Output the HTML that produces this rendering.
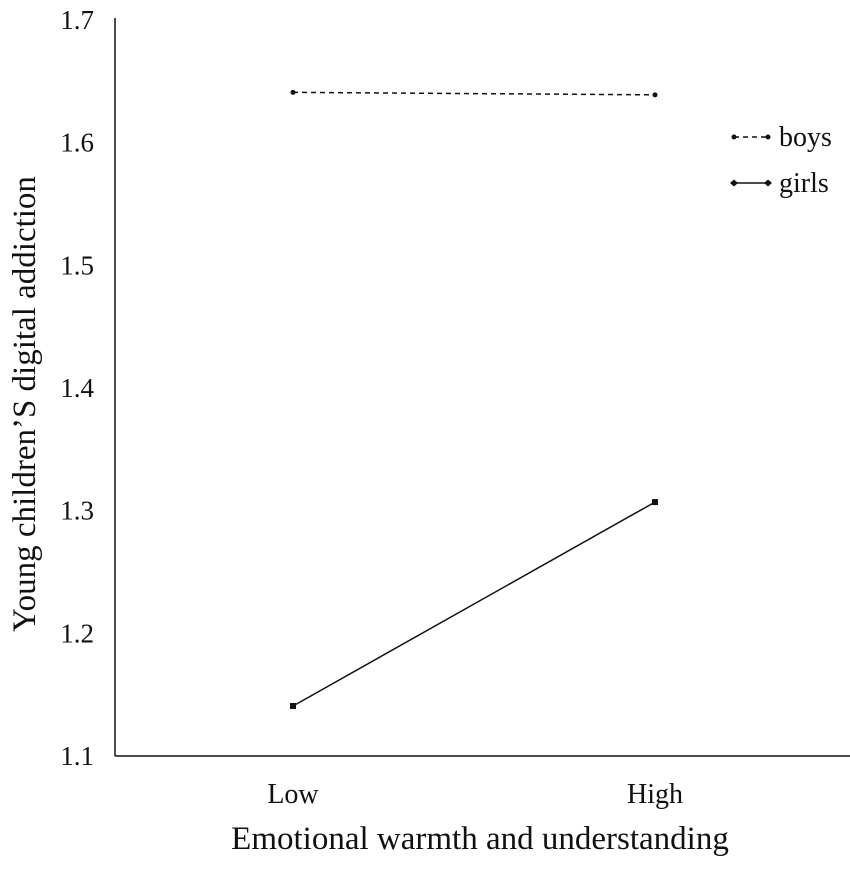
<!DOCTYPE html>
<html><head><meta charset="utf-8"><style>
body{margin:0;background:#fff}
svg text{font-family:"Liberation Serif",serif;fill:#111}
</style></head><body>
<svg id="chart" width="850" height="865" xmlns="http://www.w3.org/2000/svg">
<g id="axes"></g><g id="marks"></g>
<text transform="translate(35,404) rotate(-90)" text-anchor="middle" font-size="33">Young children’S digital addiction</text>
<text x="480" y="849" text-anchor="middle" font-size="33">Emotional warmth and understanding</text>
<g>
<line x1="734" y1="137" x2="768" y2="137" stroke="#111" stroke-width="1.5" stroke-dasharray="5,4"/>
<circle cx="734" cy="137" r="2.5" fill="#111"/><circle cx="768" cy="137" r="2.5" fill="#111"/>
<text x="779" y="146" font-size="28">boys</text>
<line x1="734" y1="183" x2="768" y2="183" stroke="#111" stroke-width="1.5"/>
<path d="M730 183l4-3.5 4 3.5-4 3.5z M764 183l4-3.5 4 3.5-4 3.5z" fill="#111"/>
<text x="779" y="192" font-size="28">girls</text>
</g>
</svg>
<script>
const categories=["Low","High"];
const yTicks=[1.1,1.2,1.3,1.4,1.5,1.6,1.7];
const boys=[1.641,1.639];
const girls=[1.1408,1.307];
const NS="http://www.w3.org/2000/svg";
const y=v=>20+(1.7-v)*1226.7;
const x=i=>293+i*362;
function mk(t,a,p){const e=document.createElementNS(NS,t);for(const k in a)e.setAttribute(k,a[k]);p.appendChild(e);return e;}
const ax=document.getElementById('axes'),mg=document.getElementById('marks');
let l=mk('line',{x1:115,y1:18,x2:115,y2:756,stroke:'#111','stroke-width':1.5},ax);


l=mk('line',{x1:115,y1:756,x2:850,y2:756,stroke:'#111','stroke-width':1.5},ax);


yTicks.forEach(v=>{const t=mk('text',{x:94,y:y(v)+9,'text-anchor':'end','font-size':27},ax);t.textContent=v.toFixed(1);

});
categories.forEach((c,i)=>{const t=mk('text',{x:x(i),y:803,'text-anchor':'middle','font-size':28},ax);t.textContent=c;

});
const bl=mk('line',{x1:x(0),y1:y(boys[0]),x2:x(1),y2:y(boys[1]),stroke:'#111','stroke-width':1.5,'stroke-dasharray':'5,4'},mg);


boys.forEach((v,i)=>{const c=mk('circle',{cx:x(i),cy:y(v),r:2.5,fill:'#111'},mg);

});
const gl=mk('line',{x1:x(0),y1:y(girls[0]),x2:x(1),y2:y(girls[1]),stroke:'#111','stroke-width':1.5},mg);


girls.forEach((v,i)=>{const r=mk('rect',{x:x(i)-3,y:y(v)-3,width:6,height:6,fill:'#111'},mg);

});
</script>
</body></html>
